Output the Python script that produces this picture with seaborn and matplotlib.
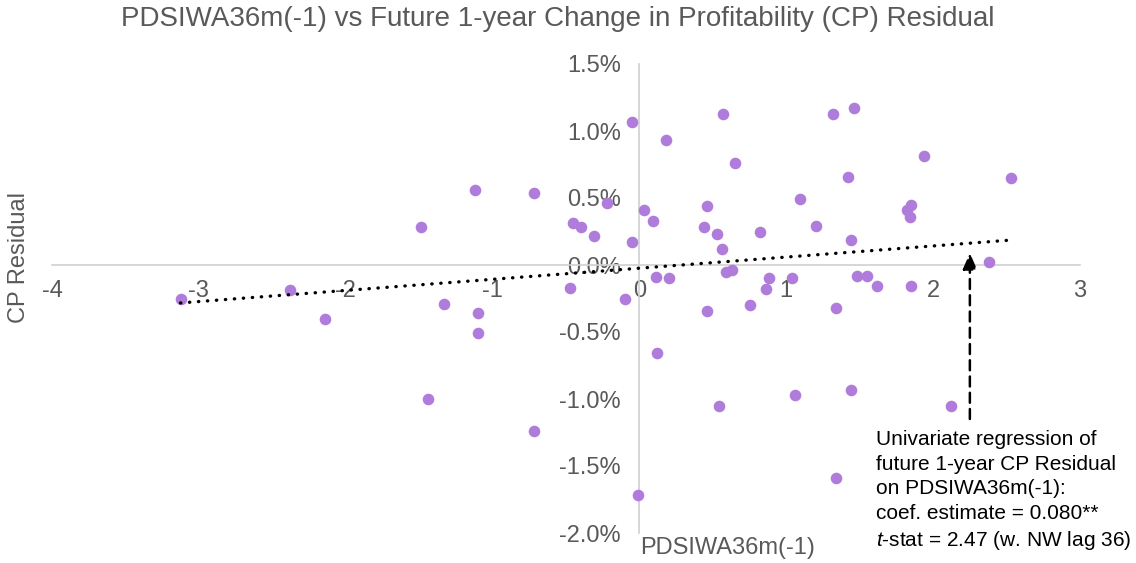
import numpy as np
import pandas as pd
import matplotlib
matplotlib.use("Agg")
import matplotlib.pyplot as plt
import seaborn as sns

# ---- data ----
pdsi = [-3.125, -2.38, -2.14, -1.49, -1.44, -1.33, -1.12, -1.10, -1.10, -0.72,
        -0.72, -0.47, -0.45, -0.40, -0.31, -0.22, -0.10, -0.05, -0.05, -0.01,
        0.03, 0.09, 0.11, 0.12, 0.18, 0.20, 0.44, 0.46, 0.46, 0.53,
        0.54, 0.56, 0.57, 0.59, 0.63, 0.65, 0.75, 0.82, 0.86, 0.88,
        1.04, 1.06, 1.09, 1.20, 1.32, 1.34, 1.34, 1.42, 1.44, 1.44,
        1.46, 1.48, 1.55, 1.62, 1.82, 1.84, 1.85, 1.85, 1.94, 2.12,
        2.38, 2.53]
cp_resid = [-0.25, -0.19, -0.40, 0.28, -1.00, -0.29, 0.56, -0.36, -0.51, 0.54,
            -1.24, -0.17, 0.31, 0.28, 0.22, 0.46, -0.25, 1.07, 0.17, -1.72,
            0.41, 0.33, -0.09, -0.66, 0.93, -0.10, 0.28, 0.44, -0.34, 0.23,
            -1.05, 0.12, 1.13, -0.05, -0.04, 0.76, -0.30, 0.25, -0.18, -0.10,
            -0.10, -0.97, 0.49, 0.29, 1.13, -0.32, -1.59, 0.66, -0.93, 0.19,
            1.17, -0.08, -0.08, -0.16, 0.41, 0.36, 0.45, -0.16, 0.81, -1.05,
            0.02, 0.65]
x_ticks = [-4, -3, -2, -1, 0, 1, 2, 3]
y_ticks = [-2.0, -1.5, -1.0, -0.5, 0.0, 0.5, 1.0, 1.5]

title = "PDSIWA36m(-1) vs Future 1-year Change in Profitability (CP) Residual"
x_label = "PDSIWA36m(-1)"
y_label = "CP Residual"
note_lines = ["Univariate regression of",
              "future 1-year CP Residual",
              "on PDSIWA36m(-1):",
              "coef. estimate = 0.080**",
              r"$\mathit{t}$-stat = 2.47 (w. NW lag 36)"]

df = pd.DataFrame({"x": pdsi, "y": cp_resid})

sns.set_theme(style="white")
plt.rcParams["font.family"] = ["Liberation Sans", "DejaVu Sans"]
plt.rcParams["axes.unicode_minus"] = False
plt.rcParams["mathtext.fontset"] = "custom"
plt.rcParams["mathtext.rm"] = "Liberation Sans"
plt.rcParams["mathtext.it"] = "Liberation Sans:italic"

gray = "#595959"
fig = plt.figure(figsize=(11.36, 5.63), dpi=100)
ax = fig.add_axes([52 / 1136, 1 - 533 / 563, (1080 - 52) / 1136, (533 - 64) / 563])

sns.scatterplot(data=df, x="x", y="y", ax=ax, color="#B07CDB", s=70,
                linewidth=0, zorder=3)
sns.regplot(data=df, x="x", y="y", ax=ax, scatter=False, ci=None,
            line_kws=dict(color="black", lw=2.4, linestyle=(0, (0.1, 2.6)),
                          dash_capstyle="round", zorder=4))

ax.set_xlim(-4, 3)
ax.set_ylim(-2.0, 1.5)
ax.set_xticks(x_ticks)
ax.set_xticklabels([str(t) for t in x_ticks])
ax.set_yticks(y_ticks)
ax.set_yticklabels([f"{t:.1f}%" for t in y_ticks])

for side in ["top", "right"]:
    ax.spines[side].set_visible(False)
ax.spines["left"].set_position(("data", 0))
ax.spines["bottom"].set_position(("data", 0))
for side in ["left", "bottom"]:
    ax.spines[side].set_color("#D0D0D0")
    ax.spines[side].set_linewidth(1.2)
    ax.spines[side].set_zorder(1)
ax.tick_params(axis="x", length=0, pad=11, labelsize=17, labelcolor=gray)
ax.tick_params(axis="y", length=0, pad=13.5, labelsize=17, labelcolor=gray)
ax.set_xlabel("")
ax.set_ylabel("")
ax.patch.set_alpha(0)

fig.text(558 / 1136, 1 - 19 / 563, title, ha="center", va="center", fontsize=20, color=gray)
fig.text(640 / 1136, 1 - 548 / 563, x_label, ha="left", va="center", fontsize=17, color=gray)
fig.text(19 / 1136, 1 - 258 / 563, y_label, ha="center", va="center", rotation=90,
         fontsize=17, color=gray)

ax.annotate("", xy=(2.25, 0.11), xytext=(2.25, -1.17),
            arrowprops=dict(arrowstyle="-|>,head_length=0.8,head_width=0.35",
                            color="black", lw=1.8, linestyle=(0, (4, 2.5))))
ax.text(1.61, -1.23, "\n".join(note_lines), ha="left", va="top", fontsize=15,
        color="black", linespacing=1.38)

fig.savefig("out.png", dpi=100)
